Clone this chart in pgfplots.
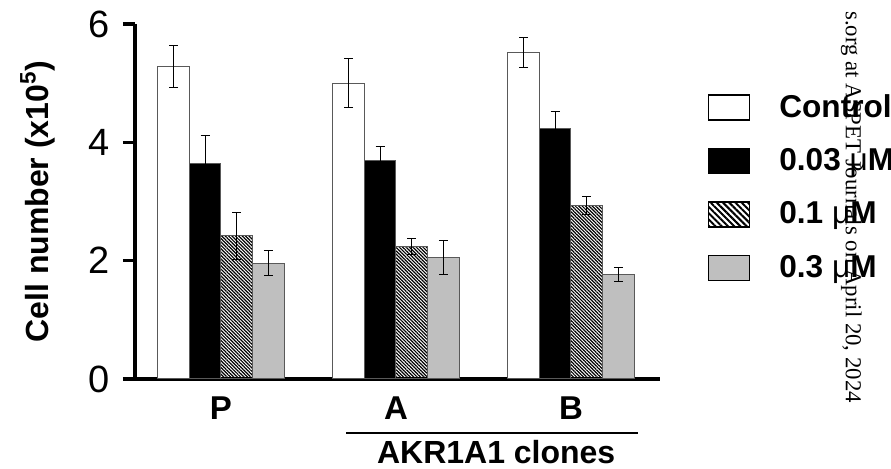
\documentclass[border=0pt]{standalone}
\usepackage{fontspec}
\setmainfont{Liberation Sans}
\newfontfamily\wmfont{Liberation Serif}
\usepackage{pgfplots}
\usepackage{pgfplotstable}
\pgfplotsset{compat=1.18}
\usetikzlibrary{patterns.meta}

% x = bar position (group P=0, A=1, B=2, bars side by side), y = mean, e = error
\pgfplotstableread{
x y e
-0.2709 5.28 0.35
0.7291 5.00 0.41
1.7291 5.52 0.25
}\control
\pgfplotstableread{
x y e
-0.0903 3.65 0.47
0.9097 3.69 0.24
1.9097 4.24 0.28
}\lowdose
\pgfplotstableread{
x y e
0.0903 2.42 0.40
1.0903 2.24 0.13
2.0903 2.93 0.15
}\middose
\pgfplotstableread{
x y e
0.2709 1.96 0.21
1.2709 2.05 0.29
2.2709 1.76 0.12
}\highdose

\pgfplotsset{
  mylegend/.style={legend image code/.code={%
    \draw[##1,draw=black,line width=0.8pt] (0pt,-6.25pt) rectangle (20.5pt,6.25pt);}},
  mybar/.style={ybar, bar width=0.1806, bar shift=0pt, draw=black!65, line width=0.5pt, mylegend,
    error bars/y dir=both, error bars/y explicit,
    error bars/error mark=-,
    error bars/error bar style={black,line width=0.5pt},
    error bars/error mark options={rotate=90,black,mark size=2.25pt,line width=0.5pt}},
}

\begin{document}
\begin{tikzpicture}
\begin{axis}[
  name=ax,
  scale only axis,
  width=262.5pt, height=177.5pt,
  xmin=-0.491, xmax=2.509,
  ymin=0, ymax=6,
  clip=false,
  axis x line*=bottom,
  axis y line*=left,
  axis line style={line width=1.6pt,-},
  ytick={0,2,4,6},
  xtick={0,1,2},
  xticklabels={P,A,B},
  xtick style={draw=none},
  ytick style={line width=1.6pt,black},
  major tick length=6pt,
  tick align=outside,
  /pgf/number format/assume math mode=true,
  yticklabel style={font=\fontsize{19}{22}\selectfont, xshift=-3pt},
  xticklabel style={font=\bfseries\fontsize{16.5}{19}\selectfont, yshift=0.5pt},
  ylabel={Cell number (x10\textsuperscript{5})},
  ylabel style={at={(axis description cs:-0.152,0.5)}, anchor=south, inner sep=0pt,
    font=\bfseries\fontsize{16}{19}\selectfont},
  legend style={at={(axis description cs:1.091,0.803)}, anchor=north west, draw=none, fill=none,
    font=\bfseries\fontsize{15.8}{19}\selectfont, inner sep=0pt, outer sep=0pt,
    row sep=13.5pt, nodes={inner sep=0pt},
    /tikz/every odd column/.style={column sep=14.5pt}},
  legend cell align=left,
]
\addplot[mybar, fill=white]
  table[x=x, y=y, y error=e] {\control};
\addplot[mybar, fill=black]
  table[x=x, y=y, y error=e] {\lowdose};
\addplot[mybar, pattern={Lines[angle=-45,distance=1.2pt,line width=0.6pt]},
  legend image post style={pattern={Lines[angle=-45,distance=2.2pt,line width=1pt]}}]
  table[x=x, y=y, y error=e] {\middose};
\addplot[mybar, fill=black!25]
  table[x=x, y=y, y error=e] {\highdose};
\legend{Control, 0.03 {\mdseries μ}M, 0.1 {\mdseries μ}M, 0.3 {\mdseries μ}M}

\draw[line width=1.2pt] (axis description cs:0.402,-0.152) -- (axis description cs:0.958,-0.152);
\node[font=\bfseries\fontsize{16}{19}\selectfont] at (axis description cs:0.688,-0.206) {AKR1A1 clones};
\node[rotate=-90, anchor=base east, font=\wmfont\fontsize{11.4}{14}\selectfont]
  at (axis description cs:1.354,-0.0873) {s.org at ASPET Journals on April 20, 2024};
\end{axis}
\pgfresetboundingbox
\path[use as bounding box] ([shift={(-67.5pt,-45pt)}]ax.south west) rectangle ([shift={(378pt,189.5pt)}]ax.south west);
\end{tikzpicture}
\end{document}
